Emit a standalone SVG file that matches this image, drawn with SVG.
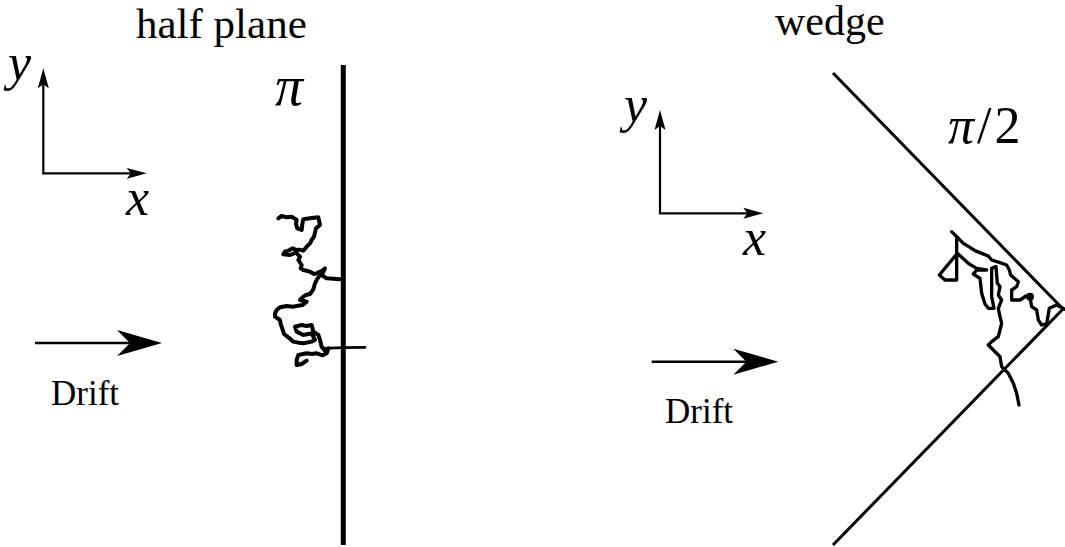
<svg xmlns="http://www.w3.org/2000/svg" width="1065" height="547" viewBox="0 0 1065 547">
<style>
.t{font-family:"Liberation Serif","Times New Roman",serif;fill:#000}
.m{font-family:"Liberation Serif","Times New Roman",serif;font-style:italic;fill:#000}
.ax{stroke:#000;stroke-width:2.2;fill:none}
.dr{stroke:#000;stroke-width:2.6;fill:none}
.walk{stroke:#000;fill:none;stroke-linejoin:round;stroke-linecap:round}
</style>
<defs>
<marker id="axh" markerUnits="userSpaceOnUse" markerWidth="24" markerHeight="14" viewBox="0 -7 24 14" refX="4" refY="0" orient="auto">
<path d="M0,-5.5 L20,0 L0,5.5 L4,0 Z" fill="#000"/>
</marker>
<marker id="drh" markerUnits="userSpaceOnUse" markerWidth="48" markerHeight="30" viewBox="0 -15 48 30" refX="13" refY="0" orient="auto">
<path d="M0,-13 L45,0 L0,13 L13,0 Z" fill="#000"/>
</marker>
</defs>

<g id="title-half-plane"><text class="t" x="136" y="38" font-size="43">half plane</text></g>
<g id="title-wedge"><text class="t" x="775" y="35" font-size="42">wedge</text></g>

<g id="boundary-half-plane"><line x1="343.3" y1="65" x2="343.3" y2="545" stroke="#000" stroke-width="5"/></g>
<g id="label-pi"><text class="m" x="275" y="105" font-size="56">π</text></g>

<g id="boundary-wedge">
<line x1="833" y1="73" x2="1063" y2="309" stroke="#000" stroke-width="3"/>
<line x1="833" y1="545" x2="1063" y2="309" stroke="#000" stroke-width="3"/>
</g>
<g id="label-pi2"><text x="948" y="143" font-size="52" letter-spacing="3"><tspan class="m">π</tspan><tspan class="t">/2</tspan></text></g>

<g id="axes-left-labels">
<text class="m" x="8" y="80" font-size="52">y</text>
<text class="m" x="126" y="215" font-size="52">x</text>
</g>
<g id="axes-right-labels">
<text class="m" x="624" y="122" font-size="52">y</text>
<text class="m" x="743" y="255" font-size="52">x</text>
</g>

<g id="drift-left-label"><text class="t" x="51" y="405" font-size="35">Drift</text></g>
<g id="drift-right-label"><text class="t" x="665" y="423" font-size="35">Drift</text></g>

<g id="walk-left" transform="translate(260,200) scale(0.3333)">
<path class="walk" stroke-width="12" d="M55,55 L65,48 L80,52 L95,50 L110,60 L108,72 L112,85 L125,90 L127,72 L130,58 L150,55 L175,52 L180,75 L168,85 L165,98 L162,110 L155,120 L150,130 L140,140 L130,152 L118,149 L110,150 L98,145 L85,152 L75,155 L70,163 L90,165 L108,158 L120,170 L115,180 L125,195 L122,205 L130,210 L150,215 L162,222 L170,220 L190,210 L195,205 L185,225 L200,235 L220,236 L240,238"/>
<path class="walk" stroke-width="12" d="M178,228 L170,240 L165,250 L160,268 L150,282 L138,285 L130,290 L120,300 L140,305 L128,315 L110,318 L100,320 L80,318 L60,322 L50,330 L45,340 L45,350 L60,360 L62,372 L65,380 L72,402 L85,412 L100,425 L115,428 L130,430 L155,425 L165,420 L155,400 L130,405 L110,395 L105,380 L125,375 L140,378 L155,375 L160,395 L175,405 L180,420 L185,440 L195,452 L205,445 L200,460 L188,466 L170,460 L155,462 L140,460 L115,465 L110,480 L110,495 L125,492 L140,482"/>
<path class="walk" stroke-width="8" d="M190,445 L250,443 L315,442"/>
</g>

<g id="walk-right" transform="translate(920,220) scale(0.3333)">
<path class="walk" stroke-width="10" d="M95,35 L110,50 L130,70 L150,82 L165,92 L185,100 L205,108 L215,120 L240,128 L260,135 L268,150 L272,165 L295,185 L290,200 L275,210 L275,240 L300,240 L318,228 L330,230 L335,260 L350,270 L355,300 L365,315 L380,312 L388,265 L410,255 L435,268"/>
<path class="walk" stroke-width="10" d="M110,50 L110,180 L75,180 L58,165 L112,100 L125,112 L145,130 L170,145 L200,150 L170,150 L160,162 L180,175 L185,220 L195,252 L205,265 L222,265 L215,230 L215,145 L228,140 L232,190 L240,200 L235,225 L245,240 L235,265 L240,290 L245,310 L240,330 L235,350 L215,365 L205,375 L220,390 L240,410 L245,440 L265,460 L280,490 L290,520 L297,555"/>
<circle cx="330" cy="230" r="12" fill="#000"/>
</g>

<g id="connectors">
<line class="ax" x1="43.3" y1="173.3" x2="43.3" y2="84.3" marker-end="url(#axh)"/>
<line class="ax" x1="42.2" y1="173.3" x2="130.7" y2="173.3" marker-end="url(#axh)"/>
<line class="ax" x1="660" y1="213.3" x2="660" y2="126" marker-end="url(#axh)"/>
<line class="ax" x1="658.9" y1="213.3" x2="747.3" y2="213.3" marker-end="url(#axh)"/>
<line class="dr" x1="35" y1="343" x2="130" y2="343" marker-end="url(#drh)"/>
<line class="dr" x1="651.7" y1="361.7" x2="746.3" y2="361.7" marker-end="url(#drh)"/>
</g>
</svg>
